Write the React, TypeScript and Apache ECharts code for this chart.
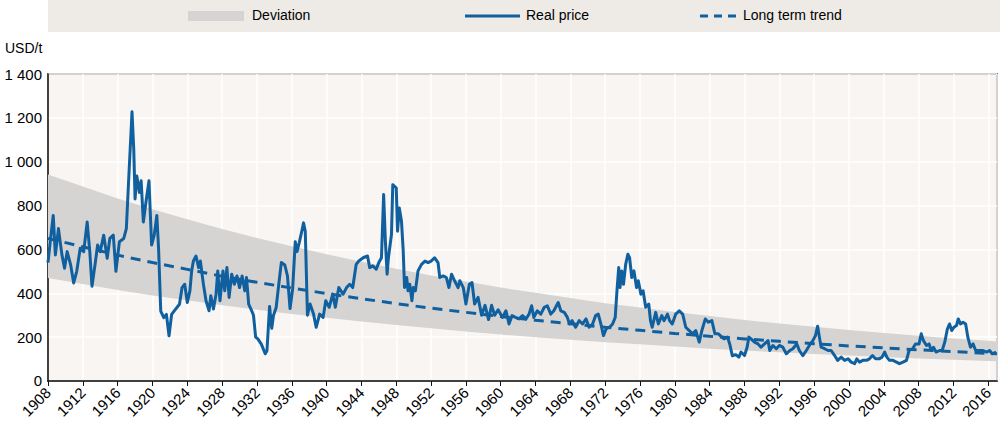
import React, { useEffect, useRef } from "react";
import * as echarts from "echarts";

const FONT = '"Liberation Sans Narrow", "Arial Narrow", "Liberation Sans", Arial, sans-serif';
const BLUE = "#1060a0";

// Band / trend read at tick years
const bandYears = [1908, 1912, 1916, 1920, 1924, 1928, 1932, 1936, 1940, 1944, 1948, 1952, 1956, 1960, 1964, 1968, 1972, 1976, 1980, 1984, 1988, 1992, 1996, 2000, 2004, 2008, 2012, 2016, 2017];
const trendValues = [650, 612, 574, 540, 509, 478, 450, 424, 399, 375, 353, 332, 313, 294, 277, 261, 245, 231, 217, 204, 192, 181, 170, 160, 151, 142, 134, 126, 124];
const bandLow = [470, 442, 415, 390, 368, 345, 325, 306, 288, 271, 255, 240, 226, 212, 200, 188, 177, 167, 157, 147, 139, 131, 123, 116, 109, 103, 97, 91, 90];
const bandHigh = [942, 887, 832, 783, 738, 693, 652, 615, 578, 544, 512, 481, 454, 426, 402, 378, 355, 335, 315, 296, 278, 262, 247, 232, 219, 206, 194, 183, 180];

// Real price (year fraction, USD/t)
const priceYears = [
  1908.0, 1908.3, 1908.6, 1908.85, 1909.2, 1909.6, 1909.9, 1910.2, 1910.6, 1910.95, 1911.3, 1911.7, 1912.1, 1912.5, 1912.8,
  1913.05, 1913.4, 1913.7, 1914.0, 1914.4, 1914.8, 1915.1, 1915.5, 1915.8, 1916.2, 1916.7, 1917.0, 1917.25, 1917.65, 1917.85,
  1918.0, 1918.2, 1918.5, 1918.7, 1918.95, 1919.3, 1919.6, 1919.9, 1920.2, 1920.5, 1920.7, 1920.95, 1921.3, 1921.6, 1921.9,
  1922.2, 1922.5, 1923.1, 1923.4, 1923.7, 1924.0, 1924.3, 1924.5, 1924.7, 1925.0, 1925.3, 1925.5, 1925.85, 1926.15, 1926.5,
  1926.7, 1927.0, 1927.3, 1927.5, 1927.75, 1928.1, 1928.3, 1928.55, 1928.8, 1929.1, 1929.4, 1929.7, 1930.0, 1930.3, 1930.6,
  1930.8, 1931.05, 1931.4, 1931.6, 1931.85, 1932.1, 1932.5, 1932.95, 1933.15, 1933.45, 1933.7, 1933.9, 1934.2, 1934.5, 1934.8,
  1935.2, 1935.5, 1935.8, 1936.1, 1936.4, 1936.6, 1936.85, 1937.15, 1937.35, 1937.55, 1937.8, 1938.1, 1938.5, 1938.8, 1939.2,
  1939.6, 1939.9, 1940.3, 1940.7, 1941.0, 1941.4, 1941.9, 1942.3, 1942.65, 1943.0, 1943.4, 1943.7, 1944.2, 1944.7, 1944.95,
  1945.3, 1945.7, 1946.0, 1946.3, 1946.55, 1946.75, 1946.95, 1947.1, 1947.45, 1947.6, 1947.8, 1948.0, 1948.15, 1948.35, 1948.6,
  1948.8, 1948.95, 1949.2, 1949.35, 1949.55, 1949.8, 1949.95, 1950.2, 1950.5, 1950.9, 1951.3, 1951.65, 1952.0, 1952.4, 1952.8,
  1953.0, 1953.4, 1953.75, 1954.05, 1954.35, 1954.7, 1955.1, 1955.3, 1955.7, 1956.0, 1956.4, 1956.7, 1957.0, 1957.4, 1957.8,
  1958.2, 1958.6, 1958.95, 1959.3, 1959.7, 1960.2, 1960.6, 1960.95, 1961.3, 1961.7, 1962.1, 1962.5, 1962.9, 1963.25, 1963.55,
  1963.8, 1964.2, 1964.6, 1965.0, 1965.35, 1965.75, 1966.1, 1966.6, 1966.9, 1967.3, 1967.65, 1967.9, 1968.2, 1968.6, 1969.0,
  1969.4, 1969.8, 1970.15, 1970.55, 1970.9, 1971.2, 1971.5, 1971.8, 1972.1, 1972.5, 1972.85, 1973.15, 1973.35, 1973.55, 1973.7,
  1973.9, 1974.1, 1974.35, 1974.6, 1974.8, 1975.05, 1975.3, 1975.6, 1975.8, 1976.1, 1976.35, 1976.65, 1977.0, 1977.2, 1977.4,
  1977.8, 1978.1, 1978.5, 1978.75, 1979.15, 1979.4, 1979.7, 1980.1, 1980.5, 1980.9, 1981.25, 1981.65, 1982.0, 1982.4, 1982.8,
  1983.1, 1983.5, 1983.85, 1984.25, 1984.6, 1985.0, 1985.4, 1985.65, 1986.05, 1986.3, 1986.6, 1987.0, 1987.35, 1987.6, 1988.0,
  1988.3, 1988.5, 1988.75, 1989.15, 1989.55, 1989.9, 1990.3, 1990.7, 1990.9, 1991.25, 1991.65, 1992.0, 1992.4, 1992.8, 1993.2,
  1993.55, 1994.0, 1994.3, 1994.7, 1995.1, 1995.55, 1995.85, 1996.15, 1996.4, 1996.6, 1996.8, 1997.2, 1997.6, 1997.95, 1998.35,
  1998.7, 1999.1, 1999.5, 1999.9, 2000.25, 2000.65, 2000.9, 2001.2, 2001.6, 2002.0, 2002.35, 2002.7, 2003.05, 2003.45, 2003.8,
  2004.1, 2004.35, 2004.65, 2005.05, 2005.45, 2005.8, 2006.2, 2006.6, 2006.9, 2007.3, 2007.65, 2008.05, 2008.3, 2008.55, 2008.9,
  2009.2, 2009.45, 2009.7, 2010.0, 2010.4, 2010.7, 2011.0, 2011.3, 2011.55, 2011.8, 2012.05, 2012.35, 2012.55, 2012.8, 2013.1,
  2013.4, 2013.65, 2013.95, 2014.25, 2014.55, 2014.95, 2015.4, 2015.8, 2016.15, 2016.45, 2016.9,
];
const priceValues = [
  540, 650, 755, 575, 695, 575, 514, 590, 530, 447, 500, 605, 590, 725, 590,
  432, 530, 620, 590, 665, 560, 650, 665, 500, 635, 650, 695, 905, 1228, 1056,
  830, 935, 860, 913, 725, 830, 913, 620, 665, 755, 605, 319, 289, 304, 206,
  304, 320, 350, 426, 441, 358, 411, 502, 547, 570, 517, 547, 441, 366, 320,
  389, 328, 396, 502, 366, 502, 411, 517, 381, 487, 441, 479, 426, 479, 411,
  472, 350, 320, 300, 200, 192, 168, 124, 138, 340, 240, 300, 334, 439, 540,
  529, 480, 330, 420, 635, 590, 630, 683, 721, 683, 300, 351, 305, 245, 305,
  290, 366, 336, 396, 336, 426, 396, 426, 441, 426, 532, 547, 562, 570, 517,
  525, 510, 540, 562, 850, 638, 487, 562, 668, 895, 888, 880, 683, 789, 729,
  593, 426, 472, 411, 441, 366, 426, 411, 502, 532, 547, 540, 547, 562, 540,
  472, 479, 472, 426, 487, 457, 426, 457, 426, 351, 441, 449, 351, 381, 300,
  345, 280, 345, 300, 325, 290, 320, 260, 298, 290, 283, 298, 283, 305, 343,
  290, 320, 305, 336, 343, 305, 320, 358, 320, 313, 290, 260, 275, 245, 275,
  260, 283, 245, 260, 298, 305, 260, 207, 237, 245, 260, 290, 411, 517, 426,
  502, 441, 532, 578, 562, 472, 502, 426, 457, 396, 411, 336, 351, 275, 245,
  313, 260, 298, 275, 305, 275, 260, 305, 320, 305, 245, 230, 215, 230, 177,
  230, 283, 268, 275, 215, 215, 200, 192, 200, 169, 115, 120, 109, 132, 116,
  154, 200, 192, 177, 169, 154, 169, 184, 139, 162, 147, 162, 154, 124, 139,
  147, 169, 139, 116, 139, 169, 184, 207, 250, 200, 154, 147, 139, 139, 116,
  94, 109, 94, 101, 86, 79, 101, 86, 94, 94, 101, 116, 101, 101, 109,
  132, 109, 94, 94, 86, 79, 86, 94, 139, 147, 169, 169, 215, 184, 162,
  169, 139, 154, 132, 139, 139, 177, 237, 260, 230, 245, 253, 283, 260, 268,
  260, 200, 154, 169, 139, 139, 139, 132, 139, 124, 132,
];

const legendLabels = ["Deviation", "Real price", "Long term trend"];

function fmtY(v: number): string {
  if (v >= 1000) {
    const t = Math.floor(v / 1000);
    const r = String(v % 1000).padStart(3, "0");
    return `${t} ${r}`;
  }
  return String(v);
}

export default function App() {
  const ref = useRef<HTMLDivElement>(null);
  useEffect(() => {
    if (!ref.current) return;
    const chart = echarts.init(ref.current, undefined, { renderer: "svg" });
    const bandData = bandYears.map((y, i) => [y, bandLow[i], bandHigh[i]]);
    const trendData = bandYears.map((y, i) => [y, trendValues[i]]);
    const priceData = priceYears.map((y, i) => [y, priceValues[i]]);
    chart.setOption({
      animation: false,
      grid: {
        left: 48,
        right: 3,
        top: 74,
        bottom: 37,
        show: true,
        backgroundColor: "#f8f5f2",
        borderColor: "#111",
        borderWidth: 1.5,
      },
      xAxis: {
        type: "value",
        min: 1908,
        max: 2017,
        interval: 4,
        axisLine: { show: true, lineStyle: { color: "#111", width: 1.5 } },
        axisTick: { show: true, length: 5, lineStyle: { color: "#111" } },
        axisLabel: {
          rotate: 45,
          margin: 9,
          fontSize: 15,
          color: "#000",
          fontFamily: FONT,
          showMaxLabel: false,
          formatter: (v: number) => String(v),
        },
        splitLine: { show: true, lineStyle: { color: "#ffffff", width: 1.5 } },
      },
      yAxis: {
        type: "value",
        min: 0,
        max: 1400,
        interval: 200,
        axisLine: { show: true, lineStyle: { color: "#111", width: 1.5 } },
        axisTick: { show: false },
        axisLabel: {
          fontSize: 15,
          color: "#000",
          fontFamily: FONT,
          margin: 6,
          formatter: (v: number) => fmtY(v),
        },
        splitLine: { show: true, lineStyle: { color: "#ffffff", width: 1.5 } },
      },
      graphic: [
        { type: "rect", left: 48, top: 0, shape: { width: 952, height: 32 }, style: { fill: "#eeebe7" }, silent: true },
        { type: "rect", left: 188, top: 11, shape: { width: 56, height: 10 }, style: { fill: "#d5d4d2" }, silent: true },
        { type: "text", left: 252, top: 8, style: { text: legendLabels[0], fontSize: 14, fontFamily: FONT, fill: "#000" } },
        { type: "line", shape: { x1: 465, y1: 16, x2: 520, y2: 16 }, style: { stroke: BLUE, lineWidth: 3 }, silent: true },
        { type: "text", left: 526, top: 8, style: { text: legendLabels[1], fontSize: 14, fontFamily: FONT, fill: "#000" } },
        { type: "line", shape: { x1: 700, y1: 16, x2: 741, y2: 16 }, style: { stroke: BLUE, lineWidth: 3, lineDash: [8, 6] }, silent: true },
        { type: "text", left: 743, top: 8, style: { text: legendLabels[2], fontSize: 14, fontFamily: FONT, fill: "#000" } },
        { type: "text", left: 5, top: 41, style: { text: "USD/t", fontSize: 14, fontFamily: FONT, fill: "#000" } },
      ],
      series: [
        {
          name: legendLabels[0],
          type: "custom",
          data: bandData,
          silent: true,
          z: 1,
          clip: true,
          renderItem: (params: any, api: any) => {
            if (params.dataIndex !== 0) return null;
            const upper = bandData.map((d) => api.coord([d[0], d[2]]));
            const lower = bandData.map((d) => api.coord([d[0], d[1]])).reverse();
            return {
              type: "polygon",
              shape: { points: upper.concat(lower) },
              style: { fill: "#d5d4d2" },
            };
          },
          encode: { x: 0, y: [1, 2] },
        },
        {
          name: legendLabels[2],
          type: "line",
          data: trendData,
          symbol: "none",
          lineStyle: { color: BLUE, width: 3, type: [10, 7] },
          z: 2,
        },
        {
          name: legendLabels[1],
          type: "line",
          data: priceData,
          symbol: "none",
          lineStyle: { color: BLUE, width: 3, join: "round" },
          z: 3,
        },
      ],
    });
    return () => chart.dispose();
  }, []);
  return <div ref={ref} style={{ position: "absolute", left: 0, top: 0, width: 1000, height: 421 }} />;
}
